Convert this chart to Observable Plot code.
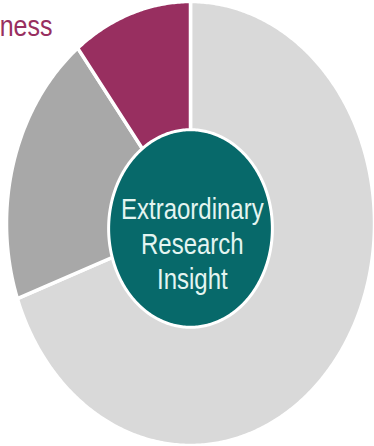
<!DOCTYPE html>
<html>
<head>
<meta charset="utf-8">
<script src="https://cdn.jsdelivr.net/npm/d3@7"></script>
<script src="https://cdn.jsdelivr.net/npm/@observablehq/plot@0.6"></script>
<style>
  html, body { margin: 0; padding: 0; background: #ffffff; }
  #chart { width: 374px; height: 446px; overflow: hidden; }
</style>
</head>
<body>
<div id="chart"></div>
<script>
// Slices, clockwise from 12 o'clock
const slices = ["Other", "Second", "ness"];
const values = [69.5, 20, 10.5];
const sliceColors = ["#d9d9d9", "#a8a8a8", "#982f60"];
const centerLabel = "Extraordinary\nResearch\nInsight";
const sideLabel = "ness";

// Build slice polygons in unit-circle data coordinates
const arcs = d3.pie().sort(null)(values);
const polys = arcs.map((a, i) => {
  const pts = [{slice: slices[i], x: 0, y: 0}];
  const n = Math.max(8, Math.ceil((a.endAngle - a.startAngle) / 0.01));
  for (let k = 0; k <= n; k++) {
    const t = a.startAngle + (a.endAngle - a.startAngle) * k / n;
    pts.push({slice: slices[i], x: Math.sin(t), y: Math.cos(t)});
  }
  pts.push({slice: slices[i], x: 0, y: 0});
  return pts;
});

// Inner hub
const hubR = 0.445, hubCy = -0.0225;
const hub = d3.range(0, 361).map(d => {
  const t = d * Math.PI / 180;
  return {x: hubR * Math.sin(t), y: hubCy + hubR * Math.cos(t)};
});

const svg = Plot.plot({
  width: 374,
  height: 446,
  margin: 0,
  x: {domain: [-1, 1], range: [6, 374], axis: null},
  y: {domain: [-1, 1], range: [445, 1], axis: null},
  style: {background: "#ffffff", fontFamily: "'Liberation Sans', Arial, sans-serif", overflow: "visible"},
  marks: [
    ...polys.map((p, i) => Plot.line(p, {
      x: "x", y: "y", fill: sliceColors[i], stroke: "#ffffff", strokeWidth: 3.5, strokeLinejoin: "round"
    })),
    Plot.line(hub, {x: "x", y: "y", fill: "#07696a", stroke: "#ffffff", strokeWidth: 3}),
    Plot.text([centerLabel], {
      x: () => 0.01, y: () => -0.088, text: d => d,
      fontSize: 24, lineHeight: 1.22, fill: "#e4f5f1", textAnchor: "middle", lineAnchor: "middle"
    }),
    Plot.text([sideLabel], {
      x: () => -0.75, y: () => 0.89, text: d => d,
      fontSize: 25, fill: "#982f60", textAnchor: "end", lineAnchor: "middle"
    })
  ]
});
document.getElementById("chart").appendChild(svg);

// Stretch labels vertically like the reference (image is stretched 1.2x vertically)
d3.select(svg).selectAll("text").each(function() {
  const bb = this.getBBox();
  const cy = bb.y + bb.height / 2;
  const t = this.getAttribute("transform") || "";
  this.setAttribute("transform", `${t} translate(0,${cy}) scale(1,1.2) translate(0,${-cy})`);
});
</script>
</body>
</html>
